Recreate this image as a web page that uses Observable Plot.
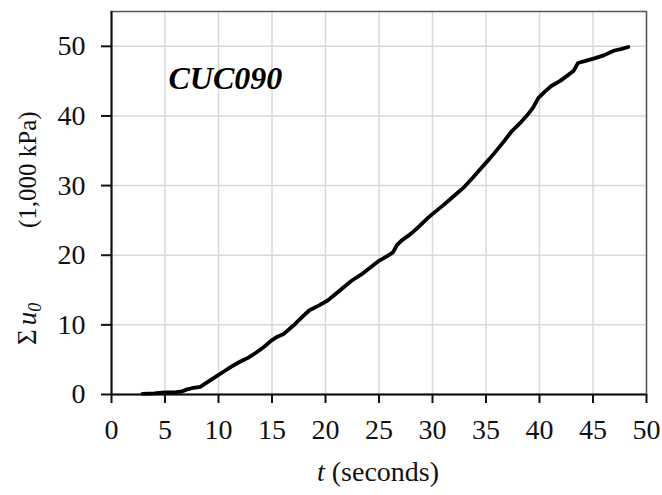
<!DOCTYPE html>
<html>
<head>
<meta charset="utf-8">
<script src="https://cdn.jsdelivr.net/npm/d3@7"></script>
<script src="https://cdn.jsdelivr.net/npm/@observablehq/plot@0.6"></script>
<style>
  html, body { margin: 0; padding: 0; background: #fff; }
  #chart svg { display: block; }
</style>
</head>
<body>
<div id="chart"></div>
<script>
// Time (seconds)
const timeS = [2.9, 4.0, 5.0, 6.0, 6.5, 7.0, 7.5, 8.3, 9.0, 9.9, 10.5, 11.2, 12.0, 12.8, 13.6, 14.3, 14.9, 15.5, 16.1, 17.0, 17.8, 18.5, 19.4, 20.2, 21.0, 22.4, 23.5, 25.0, 25.8, 26.3, 26.7, 27.1, 28.0, 28.8, 29.6, 30.3, 31.1, 32.0, 32.9, 33.8, 34.6, 35.3, 35.8, 36.6, 37.4, 38.2, 38.9, 39.4, 39.9, 40.5, 41.1, 41.9, 42.7, 43.2, 43.6, 44.3, 45.2, 46.0, 47.0, 47.6, 48.3];
// Cumulative Σu0 (1,000 kPa)
const sumU0 = [0.1, 0.15, 0.3, 0.35, 0.4, 0.7, 0.9, 1.1, 1.8, 2.7, 3.3, 4.0, 4.7, 5.3, 6.1, 6.9, 7.7, 8.3, 8.7, 9.9, 11.1, 12.1, 12.8, 13.5, 14.5, 16.3, 17.4, 19.2, 19.9, 20.4, 21.5, 22.1, 23.1, 24.2, 25.4, 26.3, 27.3, 28.5, 29.7, 31.2, 32.6, 33.8, 34.7, 36.2, 37.8, 39.0, 40.2, 41.2, 42.6, 43.5, 44.3, 45.0, 45.9, 46.5, 47.6, 47.9, 48.3, 48.7, 49.4, 49.6, 49.9];
const xTicks = [0, 5, 10, 15, 20, 25, 30, 35, 40, 45, 50];
const yTicks = [0, 10, 20, 30, 40, 50];
const seriesLabel = "CUC090";

const data = timeS.map((t, i) => ({t, u: sumU0[i]}));

const svg = Plot.plot({
  width: 662,
  height: 495,
  marginLeft: 111,
  marginRight: 16,
  marginTop: 11,
  marginBottom: 101,
  style: {fontFamily: "'Liberation Serif', 'Times New Roman', serif", fontSize: "28px", color: "#111", background: "#fff"},
  x: {domain: [0, 50]},
  y: {domain: [0, 55]},
  marks: [
    Plot.gridX(xTicks, {stroke: "#d9d9d9", strokeOpacity: 1, strokeWidth: 1.5}),
    Plot.gridY(yTicks, {stroke: "#d9d9d9", strokeOpacity: 1, strokeWidth: 1.5}),
    Plot.frame({stroke: "#555", strokeWidth: 1.5}),
    Plot.axisX({ticks: xTicks, tickSize: 9, tickPadding: 16, label: null, strokeWidth: 2, stroke: "#111", fontSize: 28}),
    Plot.axisY({ticks: yTicks, tickSize: 10, tickPadding: 16, label: null, strokeWidth: 2, stroke: "#111", fontSize: 28}),
    Plot.ruleX([0], {stroke: "#111", strokeWidth: 2}),
    Plot.ruleY([0], {stroke: "#111", strokeWidth: 2}),
    Plot.line(data, {x: "t", y: "u", stroke: "#000", strokeWidth: 3.8, curve: "linear"}),
    Plot.text([seriesLabel], {frameAnchor: "top-left", dx: 57, dy: 55, text: d => d, fontSize: 32, fontWeight: "bold", fontStyle: "italic", textAnchor: "start", fill: "#000"})
  ]
});

const sel = d3.select(svg);
// x-axis title
const xt = sel.append("text")
  .attr("x", 378).attr("y", 481)
  .attr("text-anchor", "middle")
  .attr("font-size", 28)
  .attr("fill", "#111");
xt.append("tspan").attr("font-style", "italic").text("t");
xt.append("tspan").text(" (seconds)");

// y-axis title
const yt = sel.append("text")
  .attr("transform", "translate(36,345) rotate(-90)")
  .attr("text-anchor", "start")
  .attr("font-size", 27)
  .attr("fill", "#111");
yt.append("tspan").text("Σ");
yt.append("tspan").attr("font-style", "italic").attr("dx", 4).text("u");
yt.append("tspan").attr("font-style", "italic").attr("font-size", 18).attr("dy", 5).text("0");
yt.append("tspan").attr("x", 117).attr("dy", -5).attr("font-size", 25).text("(1,000 kPa)");

document.getElementById("chart").appendChild(svg);
</script>
</body>
</html>
